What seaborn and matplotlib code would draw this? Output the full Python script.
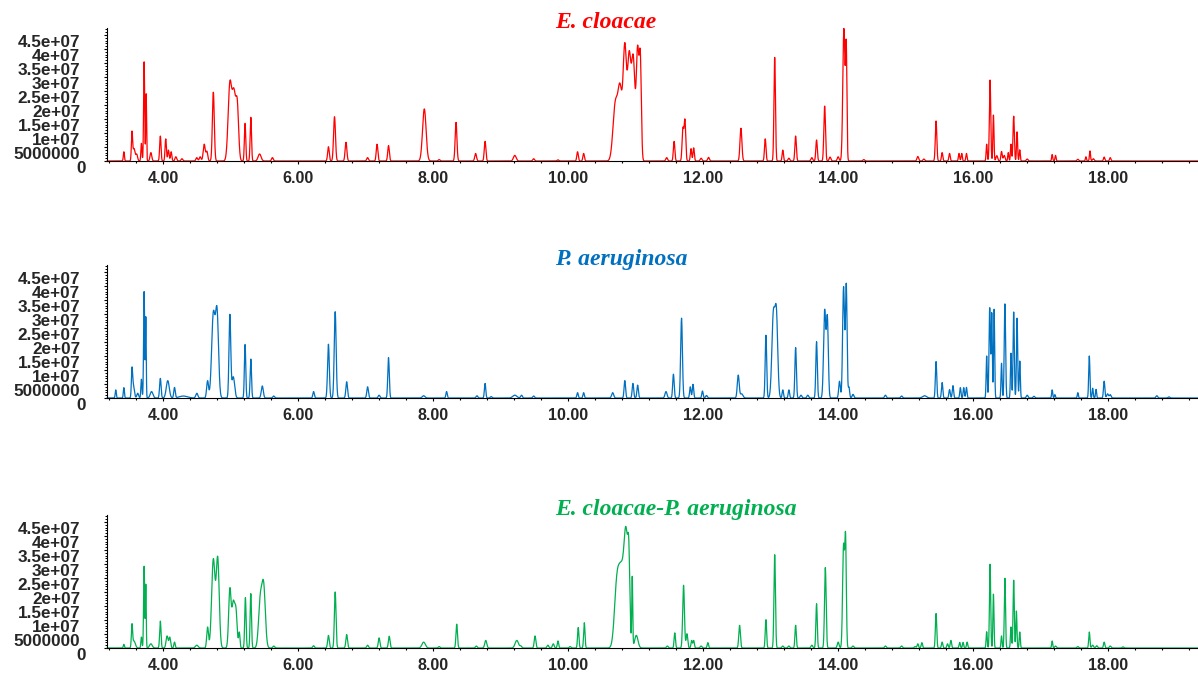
import numpy as np
import matplotlib
matplotlib.use("Agg")
import matplotlib.pyplot as plt
import matplotlib.transforms as mtransforms
from matplotlib.ticker import MultipleLocator, FormatStrFormatter
import seaborn as sns

# peak tables:
# (retention time min, apex height 1e6 counts, peak sigma min - default 0.013)
ec_peaks = [
    (3.42, 3.3, 0.008), (3.54, 10.7, 0.009), (3.57, 4.5, 0.015), (3.61, 2.5), (3.68, 6.3, 0.008),
    (3.72, 35.4, 0.008), (3.75, 24.0, 0.006), (3.82, 3.0), (3.96, 8.9, 0.01), (4.04, 7.9, 0.01),
    (4.08, 3.9, 0.01), (4.12, 3.3, 0.01), (4.19, 1.5), (4.28, 0.8), (4.50, 1.2), (4.55, 1.5),
    (4.61, 6.0, 0.015), (4.65, 3.5), (4.745, 24.6, 0.014), (4.99, 28.6, 0.026),
    (5.05, 26.0, 0.026), (5.10, 22.0, 0.02), (5.215, 13.5, 0.01), (5.30, 15.6, 0.01),
    (5.43, 2.5, 0.022), (5.62, 1.2), (6.45, 5.1, 0.012), (6.54, 15.8, 0.014), (6.71, 6.7),
    (7.03, 1.2), (7.17, 6.0, 0.012), (7.34, 5.5, 0.012), (7.87, 18.6, 0.026), (8.09, 0.5),
    (8.34, 13.8, 0.013), (8.63, 2.7), (8.77, 7.0, 0.012), (9.21, 2.0, 0.02), (9.49, 0.8),
    (9.85, 0.4), (10.14, 3.3, 0.011), (10.23, 2.7, 0.011), (10.70, 21.8, 0.035),
    (10.77, 27.7, 0.03), (10.84, 42.3, 0.025), (10.905, 39.4, 0.025), (10.965, 37.9, 0.025),
    (11.03, 41.4, 0.02), (11.07, 39.0, 0.015), (11.46, 1.2), (11.57, 7.0, 0.011),
    (11.70, 12.0, 0.012), (11.73, 15.0, 0.012), (11.82, 4.4, 0.01), (11.86, 4.7, 0.01),
    (11.97, 1.0), (12.08, 1.3), (12.56, 11.7, 0.014), (12.92, 7.9, 0.011),
    (13.06, 37.0, 0.011), (13.18, 3.9, 0.01), (13.27, 1.0), (13.37, 8.9, 0.011), (13.61, 1.2),
    (13.68, 7.5, 0.011), (13.80, 19.6, 0.012), (13.88, 1.4), (14.00, 1.5),
    (14.085, 47.4, 0.016), (14.12, 43.0, 0.01),
    (14.38, 0.5), (15.18, 1.6), (15.27, 0.7), (15.45, 14.3, 0.011), (15.54, 3.0, 0.01),
    (15.65, 2.7, 0.01), (15.79, 2.7, 0.009), (15.83, 2.7, 0.009), (15.90, 2.7, 0.009),
    (16.20, 6.0, 0.008), (16.25, 28.9, 0.01), (16.30, 16.4, 0.008), (16.35, 1.9),
    (16.42, 3.4, 0.01), (16.46, 2.0), (16.52, 3.0, 0.008), (16.56, 6.0, 0.008),
    (16.60, 16.0, 0.01), (16.65, 10.4, 0.008), (16.69, 4.0, 0.008), (16.80, 0.7),
    (17.17, 2.3, 0.008), (17.22, 2.0, 0.008), (17.55, 0.6), (17.67, 1.5, 0.008),
    (17.73, 3.6, 0.008), (17.78, 0.8), (17.94, 1.4, 0.01), (18.03, 1.2, 0.01),
]

pa_peaks = [
    (3.30, 2.9, 0.008), (3.42, 3.7, 0.008), (3.54, 11.0, 0.009), (3.56, 5.2, 0.015),
    (3.625, 1.7), (3.68, 6.7, 0.008), (3.72, 38.0, 0.008), (3.745, 29.3, 0.006),
    (3.83, 2.3, 0.02), (3.96, 7.0, 0.011), (4.07, 6.2, 0.022), (4.17, 3.8, 0.011),
    (4.30, 0.7, 0.06), (4.50, 1.7, 0.015), (4.66, 6.2, 0.014), (4.745, 31.0, 0.025),
    (4.80, 32.4, 0.022), (4.99, 29.9, 0.013), (5.04, 7.6, 0.02), (5.215, 19.2, 0.01),
    (5.30, 13.9, 0.01), (5.47, 4.3, 0.015), (5.64, 0.7), (6.23, 2.3, 0.011),
    (6.45, 19.2, 0.013), (6.55, 30.8, 0.014), (6.72, 5.8, 0.012), (7.03, 4.0, 0.012),
    (7.20, 1.0), (7.34, 14.4, 0.011), (7.86, 0.8, 0.02), (8.20, 2.3, 0.01), (8.65, 0.8),
    (8.77, 5.2, 0.01), (8.86, 0.5), (9.21, 1.0, 0.03), (9.31, 1.0), (9.49, 0.7),
    (10.14, 1.9, 0.01), (10.23, 1.9, 0.01), (10.66, 1.9, 0.015), (10.84, 6.2, 0.011),
    (10.96, 5.2, 0.011), (11.03, 4.6, 0.011), (11.45, 2.3, 0.015), (11.56, 8.5, 0.011),
    (11.68, 28.5, 0.013), (11.81, 4.0, 0.01), (11.85, 4.9, 0.01), (11.99, 2.5, 0.01),
    (12.05, 0.9), (12.52, 8.2, 0.014), (12.57, 1.5, 0.02), (12.93, 22.4, 0.011),
    (13.04, 31.5, 0.022), (13.085, 32.5, 0.02), (13.18, 2.9, 0.01), (13.27, 2.9, 0.01),
    (13.37, 18.0, 0.011), (13.45, 1.0), (13.55, 1.0), (13.68, 20.1, 0.011),
    (13.80, 31.7, 0.016), (13.84, 29.6, 0.014), (14.02, 6.0, 0.012),
    (14.08, 39.8, 0.014), (14.12, 41.0, 0.012), (14.16, 4.0, 0.01), (14.22, 1.3),
    (14.70, 1.0), (14.94, 0.7), (15.28, 0.8, 0.03), (15.45, 13.0, 0.01), (15.54, 5.5, 0.01),
    (15.65, 3.0, 0.01), (15.70, 4.4, 0.01), (15.81, 3.7, 0.009), (15.86, 3.7, 0.009),
    (15.90, 3.8, 0.009), (16.20, 15.0, 0.008), (16.245, 32.4, 0.01), (16.275, 30.6, 0.008),
    (16.31, 31.7, 0.008), (16.42, 12.4, 0.008), (16.47, 33.6, 0.01), (16.56, 16.0, 0.008),
    (16.60, 30.7, 0.009), (16.65, 28.5, 0.009), (16.69, 13.2, 0.008), (16.80, 1.0),
    (16.90, 0.6), (17.17, 2.9, 0.008), (17.21, 1.2, 0.008), (17.55, 1.9, 0.008),
    (17.72, 15.0, 0.009), (17.77, 3.5, 0.008), (17.82, 3.1, 0.008), (17.94, 6.0, 0.01),
    (17.99, 1.5), (18.03, 1.2), (18.72, 0.8), (18.90, 0.4),
]

co_peaks = [
    (3.42, 1.3, 0.008), (3.54, 8.7, 0.009), (3.57, 2.5, 0.02), (3.68, 3.9, 0.008),
    (3.72, 29.2, 0.008), (3.745, 23.0, 0.006), (3.82, 1.5, 0.02), (3.96, 9.6, 0.01),
    (4.06, 4.3, 0.015), (4.10, 3.9, 0.012), (4.17, 2.1, 0.01), (4.50, 1.0, 0.02),
    (4.66, 7.5, 0.013), (4.745, 31.9, 0.025), (4.81, 32.7, 0.022), (4.99, 21.5, 0.018),
    (5.04, 17.0, 0.02), (5.08, 14.6, 0.018), (5.13, 5.7, 0.01), (5.22, 18.0, 0.01),
    (5.30, 19.4, 0.01), (5.44, 19.4, 0.025), (5.49, 23.8, 0.025), (5.64, 0.7),
    (6.23, 0.8), (6.45, 4.5, 0.012), (6.55, 20.0, 0.012), (6.72, 4.8, 0.012), (7.03, 1.0),
    (7.20, 3.6, 0.012), (7.35, 4.2, 0.012), (7.86, 2.1, 0.025), (8.09, 0.5),
    (8.35, 8.5, 0.011), (8.64, 0.7), (8.78, 2.7, 0.015), (9.24, 2.7, 0.025), (9.30, 0.8),
    (9.51, 4.3, 0.012), (9.70, 1.0), (9.78, 1.5), (9.85, 2.5, 0.01), (10.03, 0.5),
    (10.15, 7.3, 0.01), (10.24, 9.0, 0.01), (10.72, 26.0, 0.035), (10.79, 31.0, 0.04),
    (10.86, 43.0, 0.03), (10.90, 38.0, 0.015), (10.95, 25.6, 0.007), (11.01, 4.5, 0.025),
    (11.47, 0.7), (11.58, 5.4, 0.01), (11.71, 22.4, 0.013), (11.76, 5.1, 0.012),
    (11.83, 2.7, 0.01), (11.86, 2.7, 0.01), (11.97, 0.7), (12.07, 1.9, 0.01),
    (12.54, 8.1, 0.012), (12.93, 10.1, 0.01), (13.06, 33.3, 0.011), (13.18, 0.7),
    (13.27, 0.7), (13.37, 8.1, 0.01), (13.61, 1.0), (13.68, 15.8, 0.01), (13.81, 28.7, 0.012),
    (14.00, 2.1), (14.08, 37.3, 0.014), (14.11, 41.0, 0.011), (14.22, 0.7), (14.70, 0.7),
    (14.94, 0.7), (15.14, 0.5), (15.18, 1.5, 0.01), (15.24, 1.9, 0.01), (15.45, 12.3, 0.01),
    (15.54, 2.1, 0.01), (15.62, 1.5, 0.01), (15.67, 2.7, 0.01), (15.80, 2.0, 0.009),
    (15.85, 2.0, 0.009), (15.91, 2.1, 0.009), (16.20, 5.8, 0.008), (16.25, 29.9, 0.009),
    (16.30, 19.2, 0.008), (16.42, 4.3, 0.008), (16.47, 24.9, 0.009), (16.56, 7.5, 0.008),
    (16.60, 24.2, 0.009), (16.64, 13.2, 0.008), (16.69, 5.7, 0.008), (17.17, 2.5, 0.008),
    (17.22, 0.7), (17.55, 0.5), (17.72, 5.7, 0.009), (17.77, 1.0), (17.83, 0.8),
    (17.94, 2.1, 0.01), (18.03, 0.7), (18.22, 0.4),
]

titles = ["E. cloacae", "P. aeruginosa", "E. cloacae-P. aeruginosa"]
colors = ["#FF0000", "#0070C0", "#00B050"]
ytick_values = [0, 5e6, 1e7, 1.5e7, 2e7, 2.5e7, 3e7, 3.5e7, 4e7, 4.5e7]
ytick_labels = ["0", "5000000", "1e+07", "1.5e+07", "2e+07", "2.5e+07",
                "3e+07", "3.5e+07", "4e+07", "4.5e+07"]
t_min, t_max = 3.17, 19.33


def build_trace(peaks, t):
    # sum of gaussian peaks, amplitudes solved so the trace passes through the read apex heights
    rt = np.array([p[0] for p in peaks])
    h = np.array([p[1] for p in peaks]) * 1e6
    w = np.array([p[2] if len(p) > 2 else 0.013 for p in peaks])
    A = np.exp(-0.5 * ((rt[:, None] - rt[None, :]) / w[None, :]) ** 2)
    keep = np.ones(len(rt), bool)
    for _ in range(30):
        a = np.zeros(len(rt))
        a[keep] = np.linalg.solve(A[np.ix_(keep, keep)], h[keep])
        if (a >= 0).all():
            break
        keep &= a > 0
    a = np.clip(a, 0, None)
    return (a[:, None] * np.exp(-0.5 * ((t[None, :] - rt[:, None]) / w[:, None]) ** 2)).sum(axis=0)


sns.set_style("white")
plt.rcParams["font.family"] = ["Liberation Sans", "DejaVu Sans"]

W, H = 1198, 677
fig = plt.figure(figsize=(W / 100, H / 100), dpi=100)
t = np.arange(t_min, t_max, 0.002)

panel_tops = [28, 265, 515]
panel_h = 133
left = 107

for peaks, title, color, top in zip([ec_peaks, pa_peaks, co_peaks], titles, colors, panel_tops):
    ax = fig.add_axes([left / W, 1 - (top + panel_h) / H, (W - left) / W, panel_h / H])
    y = build_trace(peaks, t)
    sns.lineplot(x=t, y=y, ax=ax, color=color, lw=0.9, estimator=None)
    for ln in ax.get_lines():
        ln.set_clip_on(False)

    ax.set_xlim(t_min, t_max)
    ax.set_ylim(0, 4.75e7)
    sns.despine(ax=ax)
    for s in ["left", "bottom"]:
        ax.spines[s].set_color("black")
        ax.spines[s].set_linewidth(0.8)

    ax.xaxis.set_major_locator(MultipleLocator(2))
    ax.xaxis.set_minor_locator(MultipleLocator(0.4))
    ax.xaxis.set_major_formatter(FormatStrFormatter("%.2f"))
    ax.set_xlim(t_min, t_max)
    ax.set_yticks(ytick_values)
    ax.set_yticklabels(ytick_labels)
    ax.yaxis.set_minor_locator(MultipleLocator(1e6))

    ax.tick_params(axis="x", which="major", direction="out", length=2.5, width=0.8,
                   color="black", pad=5, labelsize=11.5, bottom=True)
    ax.tick_params(axis="x", which="minor", direction="out", length=1.6, width=0.8,
                   color="black", bottom=True)
    ax.tick_params(axis="y", which="major", direction="out", length=2.2, width=0.8,
                   color="black", pad=17, labelsize=12.3, left=True)
    ax.tick_params(axis="y", which="minor", direction="out", length=1.4, width=0.7,
                   color="black", left=True)
    for lab in ax.get_xticklabels():
        lab.set_fontweight("bold")
    for lab in ax.get_yticklabels():
        lab.set_fontweight("bold")
        dx = 6 / 100 if lab.get_text() == "0" else 0
        lab.set_transform(lab.get_transform()
                          + mtransforms.ScaledTranslation(dx, -6 / 100, fig.dpi_scale_trans))
    ax.set_xlabel("")
    ax.set_ylabel("")

    ax.text((555 - left) / (W - left), 1.0, title, transform=ax.transAxes,
            ha="left", va="baseline", color=color, fontsize=17,
            family="Liberation Serif", fontweight="bold", fontstyle="italic")

fig.savefig("out.png", dpi=100)
